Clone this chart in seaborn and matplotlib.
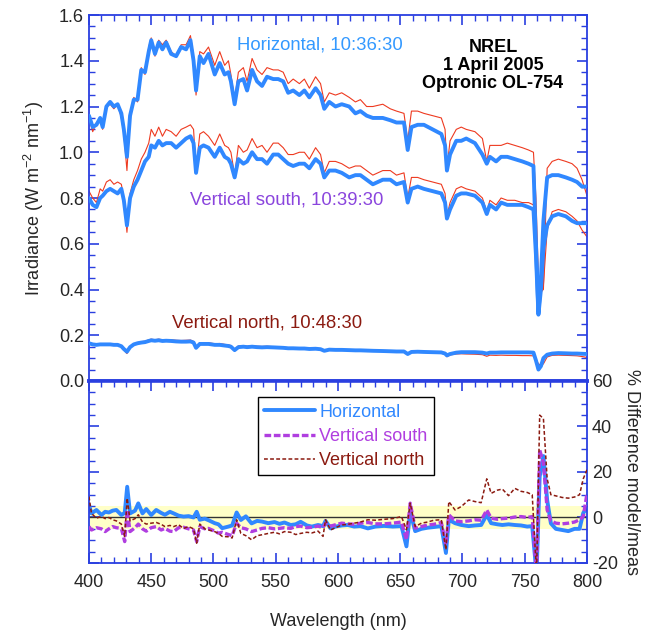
import matplotlib
matplotlib.use("Agg")
import matplotlib.pyplot as plt
import seaborn as sns
import pandas as pd
from matplotlib.ticker import MultipleLocator

# ---------------- data: irradiance spectra ----------------
wl = [400, 403, 406, 409, 411, 414, 417, 420, 423, 426, 428, 430.5, 433, 436, 439, 442, 445, 448, 450, 453,
      456, 459, 462, 466, 470, 474, 478, 481.5, 484, 486, 489, 492, 496, 501, 505, 509, 512, 514, 517, 520,
      524, 527, 531, 535, 539, 543, 548, 552, 556, 560, 564, 569, 573, 577, 582, 586, 589, 593, 598, 603,
      609, 614, 618, 623, 628, 636, 642, 647, 653, 656, 659, 664, 669, 676, 683, 686, 687.5, 690, 695, 699,
      703, 710, 716, 719.5, 722, 727, 731, 736, 742, 748, 753, 757, 759, 761, 763, 765, 768, 772, 777, 783,
      788, 792, 796, 800]

horiz_meas = [1.16, 1.11, 1.12, 1.15, 1.11, 1.20, 1.22, 1.20, 1.21, 1.17, 1.10, 0.98, 1.16, 1.23, 1.23, 1.36, 1.35, 1.44, 1.49, 1.43,
              1.48, 1.45, 1.48, 1.43, 1.42, 1.46, 1.45, 1.49, 1.40, 1.27, 1.42, 1.39, 1.43, 1.34, 1.39, 1.34, 1.35, 1.31, 1.21, 1.31,
              1.32, 1.27, 1.36, 1.31, 1.29, 1.33, 1.32, 1.32, 1.31, 1.26, 1.27, 1.25, 1.27, 1.24, 1.28, 1.25, 1.19, 1.22, 1.20, 1.21,
              1.20, 1.17, 1.18, 1.16, 1.15, 1.15, 1.14, 1.13, 1.13, 1.01, 1.11, 1.12, 1.12, 1.10, 1.08, 1.03, 0.92, 0.99, 1.05, 1.05,
              1.06, 1.04, 0.99, 0.95, 0.98, 0.96, 0.98, 0.98, 0.97, 0.96, 0.95, 0.94, 0.60, 0.30, 0.45, 0.70, 0.89, 0.90, 0.90, 0.89,
              0.88, 0.87, 0.85, 0.85]
horiz_model = [1.15, 1.09, 1.13, 1.14, 1.10, 1.20, 1.21, 1.19, 1.21, 1.15, 1.08, 0.92, 1.15, 1.24, 1.22, 1.37, 1.34, 1.46, 1.50, 1.42,
               1.49, 1.47, 1.49, 1.44, 1.42, 1.47, 1.47, 1.51, 1.42, 1.25, 1.44, 1.43, 1.46, 1.38, 1.44, 1.38, 1.40, 1.34, 1.23, 1.35,
               1.37, 1.31, 1.41, 1.36, 1.34, 1.37, 1.36, 1.36, 1.35, 1.30, 1.32, 1.30, 1.32, 1.28, 1.33, 1.30, 1.22, 1.26, 1.25, 1.26,
               1.24, 1.22, 1.23, 1.20, 1.20, 1.21, 1.19, 1.18, 1.17, 1.05, 1.18, 1.18, 1.17, 1.16, 1.15, 1.10, 0.93, 1.05, 1.10, 1.11,
               1.10, 1.09, 1.06, 0.96, 1.03, 1.03, 1.03, 1.04, 1.03, 1.02, 1.01, 1.00, 0.80, 0.45, 0.39, 0.40, 0.93, 0.96, 0.97, 0.96,
               0.95, 0.93, 0.88, 0.81]
south_meas = [0.80, 0.77, 0.76, 0.80, 0.81, 0.83, 0.84, 0.83, 0.82, 0.84, 0.79, 0.68, 0.80, 0.85, 0.88, 0.92, 0.96, 0.98, 1.03, 1.02,
              1.05, 1.03, 1.04, 1.04, 1.02, 1.04, 1.06, 1.07, 1.04, 0.91, 1.02, 1.03, 1.02, 0.98, 1.02, 0.98, 0.97, 0.95, 0.89, 0.97,
              0.95, 0.96, 1.00, 0.97, 0.97, 0.95, 0.99, 0.99, 0.97, 0.95, 0.94, 0.95, 0.95, 0.93, 0.97, 0.95, 0.89, 0.92, 0.92, 0.91,
              0.89, 0.90, 0.90, 0.88, 0.86, 0.88, 0.88, 0.86, 0.87, 0.78, 0.84, 0.85, 0.84, 0.83, 0.82, 0.78, 0.71, 0.75, 0.81, 0.82,
              0.82, 0.81, 0.78, 0.73, 0.77, 0.75, 0.78, 0.77, 0.77, 0.77, 0.76, 0.75, 0.55, 0.29, 0.40, 0.58, 0.68, 0.72, 0.73, 0.72,
              0.70, 0.69, 0.69, 0.69]
south_model = [0.83, 0.80, 0.78, 0.84, 0.83, 0.87, 0.88, 0.86, 0.87, 0.86, 0.80, 0.65, 0.82, 0.88, 0.92, 0.97, 1.00, 1.04, 1.10, 1.07,
               1.11, 1.07, 1.10, 1.09, 1.07, 1.10, 1.11, 1.12, 1.10, 0.92, 1.08, 1.09, 1.07, 1.03, 1.08, 1.03, 1.02, 1.00, 0.90, 1.03,
               1.00, 1.01, 1.06, 1.02, 1.03, 1.00, 1.04, 1.04, 1.02, 0.99, 0.99, 1.00, 1.00, 0.97, 1.02, 0.99, 0.91, 0.96, 0.96, 0.95,
               0.93, 0.94, 0.94, 0.92, 0.90, 0.92, 0.92, 0.90, 0.91, 0.80, 0.89, 0.89, 0.88, 0.87, 0.86, 0.82, 0.72, 0.78, 0.84, 0.85,
               0.84, 0.83, 0.80, 0.74, 0.79, 0.77, 0.80, 0.79, 0.79, 0.78, 0.78, 0.77, 0.60, 0.35, 0.38, 0.42, 0.66, 0.74, 0.75, 0.74,
               0.72, 0.70, 0.66, 0.63]
north_meas = [0.165, 0.160, 0.158, 0.160, 0.160, 0.160, 0.160, 0.158, 0.158, 0.152, 0.140, 0.128, 0.148, 0.160, 0.165, 0.168, 0.170, 0.175, 0.178, 0.176,
              0.178, 0.175, 0.176, 0.175, 0.173, 0.172, 0.172, 0.173, 0.168, 0.145, 0.162, 0.162, 0.162, 0.158, 0.158, 0.155, 0.153, 0.150, 0.135, 0.148,
              0.150, 0.148, 0.150, 0.148, 0.147, 0.148, 0.147, 0.146, 0.145, 0.143, 0.143, 0.142, 0.142, 0.140, 0.141, 0.139, 0.132, 0.137, 0.136, 0.136,
              0.135, 0.134, 0.134, 0.133, 0.132, 0.131, 0.130, 0.129, 0.129, 0.118, 0.127, 0.128, 0.127, 0.126, 0.125, 0.120, 0.112, 0.118, 0.124, 0.126,
              0.126, 0.126, 0.124, 0.120, 0.124, 0.124, 0.125, 0.125, 0.125, 0.125, 0.125, 0.124, 0.090, 0.050, 0.065, 0.100, 0.115, 0.120, 0.122, 0.121,
              0.120, 0.120, 0.119, 0.118]
north_model = [0.162, 0.158, 0.157, 0.160, 0.159, 0.161, 0.161, 0.158, 0.158, 0.150, 0.136, 0.120, 0.150, 0.162, 0.168, 0.172, 0.174, 0.180, 0.183, 0.180,
               0.183, 0.180, 0.181, 0.180, 0.178, 0.177, 0.178, 0.179, 0.173, 0.148, 0.168, 0.168, 0.167, 0.163, 0.164, 0.160, 0.158, 0.155, 0.138, 0.153,
               0.155, 0.152, 0.155, 0.152, 0.151, 0.152, 0.150, 0.149, 0.148, 0.146, 0.146, 0.145, 0.144, 0.142, 0.143, 0.141, 0.133, 0.138, 0.137, 0.137,
               0.136, 0.135, 0.134, 0.133, 0.132, 0.131, 0.130, 0.129, 0.128, 0.119, 0.126, 0.126, 0.125, 0.124, 0.122, 0.116, 0.106, 0.114, 0.118, 0.119,
               0.118, 0.117, 0.115, 0.108, 0.113, 0.112, 0.113, 0.112, 0.112, 0.111, 0.111, 0.110, 0.095, 0.075, 0.068, 0.075, 0.105, 0.112, 0.113, 0.112,
               0.111, 0.110, 0.107, 0.103]

# ---------------- data: % difference model/meas ----------------
wl_d = [400, 402, 406, 410, 413, 416, 419, 422, 426, 428.7, 430.7, 433, 437, 439.6, 443, 446, 450, 454, 458, 461,
        465, 468, 472, 476, 480, 484, 486.5, 489, 493, 496, 501, 504, 507, 512, 515, 518.6, 522, 526, 530.6, 535,
        539, 544, 549, 553, 557, 562, 566, 570, 575, 579, 584, 588, 590, 594, 598, 603, 608, 613, 618, 624,
        630, 637, 644, 651, 655, 658, 662, 667, 672, 677, 683, 686.7, 689, 694, 699, 705, 710, 715, 719.5, 723,
        728, 732, 737, 742, 747, 752, 756, 759.5, 762, 765, 768, 771, 775, 780, 785, 790, 794, 797, 800]
diff_horiz = [5.5, 1.8, 3.3, 1.1, 2.5, 2.2, 3.0, 3.3, 1.1, 2.0, 13.5, 1.8, 3.0, 6.2, 1.8, 3.7, 1.1, 3.3, 2.0, 1.2,
              2.5, 1.8, 0.8, 0.4, 0.6, 0.0, 2.5, -1.0, -0.5, -1.2, -2.5, -3.0, -4.7, -4.0, -3.5, 2.2, -1.1, 0.5, -2.6, -1.5,
              -1.8, -2.5, -2.0, -2.8, -2.2, -3.3, -3.0, -1.9, -3.5, -4.0, -3.3, -3.8, -1.5, -4.8, -4.0, -3.5, -3.3, -4.0, -3.8, -4.8,
              -4.0, -3.7, -4.0, -3.8, -12.7, 2.6, -6.0, -5.0, -4.5, -4.2, -3.8, -15.6, -1.0, -2.5, -3.3, -3.8, -3.5, -3.3, 1.2, -2.5,
              -3.0, -3.3, -3.0, -3.3, -3.5, -4.0, -3.8, -25.0, 18.0, 27.0, 7.7, -2.6, -5.0, -5.5, -6.0, -5.0, -5.0, 2.0, 4.2]
diff_south = [-4.0, -5.5, -4.5, -5.0, -6.2, -5.0, -4.0, -4.5, -4.8, -10.6, 3.3, -6.2, -4.5, -2.9, -5.0, -6.0, -4.5, -4.0, -5.5, -4.8,
              -6.0, -6.2, -4.5, -4.3, -5.0, -5.5, -10.6, -4.0, -5.0, -4.8, -6.0, -6.9, -6.5, -7.5, -8.0, -2.5, -4.5, -5.0, -6.2, -5.5,
              -4.8, -4.5, -5.0, -4.8, -4.5, -4.8, -4.0, -3.8, -4.5, -4.3, -3.8, -4.5, -2.5, -3.8, -3.2, -2.5, -2.8, -3.0, -2.5, -2.2,
              -2.8, -2.8, -2.5, -2.0, -9.7, 6.3, -4.7, -4.0, -3.3, -3.0, -2.2, -12.0, 1.2, -1.5, -1.8, -1.5, -1.0, -1.2, 3.3, -0.3,
              -0.8, -0.5, -0.3, 0.2, 0.4, 0.0, 0.4, -25.0, 29.7, 24.0, 3.3, -1.5, -2.5, -2.8, -2.5, -2.0, -1.0, 0.4, 10.6]
diff_north = [9.2, 1.8, -0.3, 0.5, -0.5, 0.0, -1.0, -1.5, -2.9, -8.3, 8.5, -1.5, -0.5, 1.2, -2.0, -2.9, -2.5, -2.2, -3.0, -4.0,
              -3.5, -4.0, -3.2, -4.8, -4.0, -5.0, -11.3, -2.9, -5.0, -5.5, -6.2, -7.0, -8.3, -8.5, -9.0, -1.0, -7.0, -8.0, -9.8, -8.0,
              -7.6, -7.0, -6.5, -7.2, -6.2, -6.5, -7.5, -7.0, -6.5, -6.8, -6.0, -8.3, -1.0, -5.5, -4.5, -3.3, -3.0, -2.5, -2.0, -1.0,
              -1.2, -0.8, -0.5, 0.4, -5.4, 6.3, -4.0, -2.5, -2.0, -1.2, -1.0, -14.2, 7.0, 3.3, 4.8, 7.7, 7.0, 6.5, 17.0, 10.6,
              12.0, 12.5, 9.6, 12.8, 11.5, 11.0, 10.0, -25.0, 45.0, 43.5, 17.0, 10.0, 9.5, 8.8, 8.5, 9.0, 10.0, 17.0, 21.0]

x_ticks = [400, 450, 500, 550, 600, 650, 700, 750, 800]
irr_ticks = [0.0, 0.2, 0.4, 0.6, 0.8, 1.0, 1.2, 1.4, 1.6]
pct_ticks = [-20, 0, 20, 40, 60]

# ---------------- styling ----------------
sns.set_style("ticks")
plt.rcParams['font.family'] = ['Liberation Sans', 'DejaVu Sans']
plt.rcParams['mathtext.fontset'] = 'custom'
plt.rcParams['mathtext.rm'] = 'Liberation Sans'
plt.rcParams['mathtext.it'] = 'Liberation Sans'
plt.rcParams['axes.unicode_minus'] = False

FS = 13
AX_BLUE = '#2a3fe0'
MEAS_BLUE = '#3088ff'
MODEL_RED = '#ee3a20'
SOUTH_PURPLE = '#b03ee0'
NORTH_RED = '#8b1a10'

spec = pd.DataFrame({'wl': wl, 'hm': horiz_meas, 'hmod': horiz_model, 'sm': south_meas,
                     'smod': south_model, 'nm': north_meas, 'nmod': north_model})
diff = pd.DataFrame({'wl': wl_d, 'h': diff_horiz, 's': diff_south, 'n': diff_north})

fig = plt.figure(figsize=(6.62, 6.31), dpi=100)
ax1 = fig.add_axes([0.1344, 0.3962, 0.7523, 0.5800])
ax2 = fig.add_axes([0.1344, 0.1078, 0.7523, 0.2884])

# top panel
for m, mod in [('hm', 'hmod'), ('sm', 'smod'), ('nm', 'nmod')]:
    sns.lineplot(data=spec, x='wl', y=mod, ax=ax1, color=MODEL_RED, lw=0.8, zorder=2)
    sns.lineplot(data=spec, x='wl', y=m, ax=ax1, color=MEAS_BLUE, lw=2.8, zorder=3)

ax1.set_xlim(400, 800)
ax1.set_ylim(0, 1.6)
ax1.set_xticks(x_ticks)
ax1.set_yticks(irr_ticks)
ax1.set_yticklabels([f'{t:.1f}' for t in irr_ticks])
ax1.xaxis.set_minor_locator(MultipleLocator(10))
ax1.yaxis.set_minor_locator(MultipleLocator(0.05))
ax1.tick_params(which='both', direction='in', top=True, right=True, bottom=False,
                labelbottom=False, color=AX_BLUE, labelsize=FS)
ax1.tick_params(which='major', length=7, width=1.2)
ax1.tick_params(which='minor', length=4, width=1.0)
ax1.set_xlabel('')
ax1.set_ylabel('Irradiance (W m$^{-2}$ nm$^{-1}$)', fontsize=FS, labelpad=9)
for s in ax1.spines.values():
    s.set_color(AX_BLUE)
    s.set_linewidth(1.3)
ax1.spines['bottom'].set_linewidth(2.6)

ax1.text(519, 1.47, 'Horizontal, 10:36:30', color='#3399ff', fontsize=13.3, va='center', ha='left')
ax1.text(481, 0.79, 'Vertical south, 10:39:30', color='#8a45dd', fontsize=13.3, va='center', ha='left')
ax1.text(466.5, 0.254, 'Vertical north, 10:48:30', color=NORTH_RED, fontsize=13.3, va='center', ha='left')
ax1.text(724.5, 1.38, 'NREL\n1 April 2005\nOptronic OL-754', color='black', fontsize=13,
         fontweight='bold', ha='center', va='center', linespacing=1.1)

# bottom panel
ax2.axhspan(-5, 5, color='#ffffc8', zorder=0, lw=0)
ax2.axhline(0, color='#333333', lw=1.0, zorder=1)
sns.lineplot(data=diff, x='wl', y='n', ax=ax2, color=NORTH_RED, lw=1.1, zorder=4,
             label='Vertical north', dashes=False)
sns.lineplot(data=diff, x='wl', y='s', ax=ax2, color=SOUTH_PURPLE, lw=2.4, zorder=3,
             label='Vertical south', dashes=False)
sns.lineplot(data=diff, x='wl', y='h', ax=ax2, color=MEAS_BLUE, lw=2.8, zorder=2,
             label='Horizontal', dashes=False)
ax2.lines[-3].set_linestyle((0, (2.5, 1.5)))
ax2.lines[-2].set_linestyle((0, (2.0, 0.8)))

ax2.set_xlim(400, 800)
ax2.set_ylim(-20, 60)
ax2.set_xticks(x_ticks)
ax2.set_yticks(pct_ticks)
ax2.xaxis.set_minor_locator(MultipleLocator(10))
ax2.yaxis.set_minor_locator(MultipleLocator(5))
ax2.yaxis.set_label_position('right')
ax2.tick_params(which='both', direction='in', left=True, right=True, top=True,
                labelleft=False, labelright=True, color=AX_BLUE, labelsize=FS)
ax2.tick_params(which='major', length=7, width=1.2)
ax2.tick_params(which='minor', length=4, width=1.0)
ax2.tick_params(axis='x', which='major', pad=8)
ax2.set_xlabel('Wavelength (nm)', fontsize=FS, labelpad=16)
ax2.set_ylabel('% Difference model/meas', fontsize=FS, rotation=270, labelpad=16)
for s in ax2.spines.values():
    s.set_color(AX_BLUE)
    s.set_linewidth(1.3)
ax2.spines['top'].set_linewidth(2.6)

handles, labels = ax2.get_legend_handles_labels()
order = [labels.index(n) for n in ['Horizontal', 'Vertical south', 'Vertical north']]
leg = ax2.legend([handles[i] for i in order], [labels[i] for i in order],
                 loc='upper left', bbox_to_anchor=(0.339, 0.91), fontsize=13,
                 frameon=True, fancybox=False, edgecolor='black', framealpha=1,
                 handlelength=2.8, handletextpad=0.25, borderpad=0.35, labelspacing=0.4,
                 borderaxespad=0)
leg.get_frame().set_linewidth(1.0)
for txt, c in zip(leg.get_texts(), [MEAS_BLUE, SOUTH_PURPLE, NORTH_RED]):
    txt.set_color(c)

fig.savefig('out.png', dpi=100)
